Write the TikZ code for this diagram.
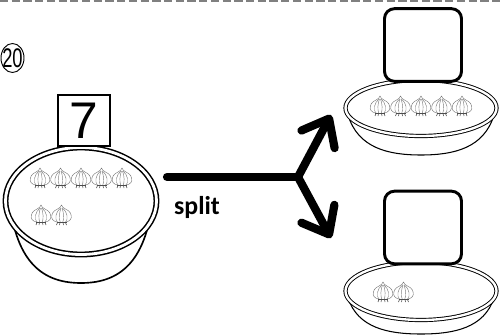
\documentclass[tikz,border=0pt]{standalone}
\usepackage{fontspec}
\setsansfont{Liberation Sans}
\newfontfamily\labelfont{Carlito}
\usetikzlibrary{shapes,arrows.meta,positioning,calc}

\begin{document}
\begin{tikzpicture}[
  x=0.03cm, y=-0.03cm,
  rim/.style={
    draw, ellipse, double, fill=white, inner sep=0pt,
    line width=0.8pt, double distance=2pt
  },
  bigrim/.style={rim, line width=1.3pt, double distance=2.4pt},
  bowlbody/.style={draw, line width=0.9pt},
  numbox/.style={
    draw, rectangle, fill=white, line width=1.7pt, inner sep=0pt,
    minimum width=15.6mm, minimum height=15.3mm,
    font=\sffamily\fontsize{44}{44}\selectfont
  },
  answerbox/.style={
    draw, rectangle, fill=white, line width=2.5pt, rounded corners=3mm,
    minimum width=23.1mm, minimum height=21.8mm
  },
  edge/.style={line width=7pt, line cap=round, line join=round},
  garlicline/.style={draw=black!55, line width=0.35pt},
  garlic/.pic={
    % bulb
    \draw[garlicline, fill=white]
      (0,-11) .. controls (-0.5,-9) and (-2,-8) .. (-4,-7)
      .. controls (-8.5,-5) and (-10,-2) .. (-9.8,1.5)
      .. controls (-9.5,4.5) and (-6,6.5) .. (0,6.5)
      .. controls (6,6.5) and (9.5,4.5) .. (9.8,1.5)
      .. controls (10,-2) and (8.5,-5) .. (4,-7)
      .. controls (2,-8) and (0.5,-9) .. (0,-11) -- cycle;
    % cloves
    \draw[garlicline] (-1,-8) .. controls (-6,-4) and (-7,3) .. (-4,6.3);
    \draw[garlicline] (1,-8) .. controls (6,-4) and (7,3) .. (4,6.3);
    \draw[garlicline] (-0.5,-8) .. controls (-2.5,-3) and (-2.5,3) .. (-1.2,6.5);
    \draw[garlicline] (0.5,-8) .. controls (2.5,-3) and (2.5,3) .. (1.2,6.5);
    % base and roots
    \draw[black!70, line width=0.6pt] (-5,6) -- (5,6);
    \draw[black!70, line width=0.5pt]
      (-4,6.5) -- (-5,9) (-1.5,6.5) -- (-2,9) (1.5,6.5) -- (2,9) (4,6.5) -- (5,9);
  }
]
\useasboundingbox (0,0) rectangle (500,335);

% cut line
\draw[black!50, line width=1.2pt, dash pattern=on 7pt off 3pt] (0,1) -- (500,1);

% exercise number
\node[font=\sffamily\fontsize{23}{23}\selectfont, inner sep=0pt] (idx) at (12.5,58)
  {\scalebox{0.68}[1]{20}};
\draw[line width=0.8pt] (idx.center) ellipse [x radius=11.5, y radius=14.5];

% whole bowl
\draw[bowlbody, line width=1.4pt] (10,205) .. controls (18,268) and (48,283) .. (81,283)
  .. controls (114,283) and (144,268) .. (152,205);
\node[bigrim, minimum width=45.3mm, minimum height=32.1mm] (bowlL) at (81,201) {};
\node[numbox] (total) at (84,120.5) {7};
\foreach \gx in {40,60.5,81,101.5,122}
  \pic at (\gx,179) {garlic};
\foreach \gx in {41,61.5}
  \pic at (\gx,216) {garlic};

% upper part
\draw[bowlbody] (348,115) .. controls (358,148) and (388,155) .. (421,155)
  .. controls (454,155) and (484,148) .. (494,115);
\node[rim, minimum width=45.3mm, minimum height=16.8mm] (bowlA) at (421,108) {};
\node[answerbox] (partA) at (423,45) {};
\foreach \gx in {380,400.5,421,441.5,462}
  \pic at (\gx,107) {garlic};

% lower part
\draw[bowlbody] (348,298) .. controls (358,328) and (388,334) .. (421,334)
  .. controls (454,334) and (484,328) .. (494,298);
\node[rim, minimum width=45.3mm, minimum height=17.4mm] (bowlB) at (421,291) {};
\node[answerbox] (partB) at (423,227.5) {};
\foreach \gx in {383,403.5}
  \pic at (\gx,293) {garlic};

% split arrows
\coordinate (splitStart) at (167,177);
\coordinate (fork) at (298,177);
\coordinate (tipA) at (331,115);
\coordinate (tipB) at (331,238);
\draw[edge] (splitStart) -- (fork);
\draw[edge, -{Straight Barb[round, length=20pt, width=32pt]}] (fork) -- (tipA);
\draw[edge, -{Straight Barb[round, length=20pt, width=32pt]}] (fork) -- (tipB);
\node[font=\labelfont\bfseries\fontsize{22}{22}\selectfont, inner sep=0pt] (splitLabel)
  at (197,207) {split};

\end{tikzpicture}
\end{document}
